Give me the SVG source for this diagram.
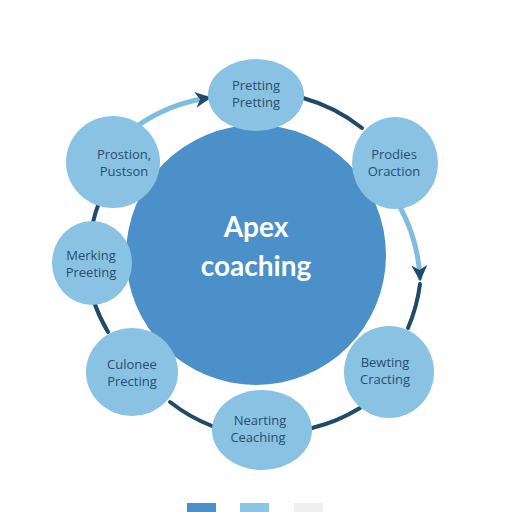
<svg xmlns="http://www.w3.org/2000/svg" width="512" height="512" viewBox="0 0 512 512">
<defs>
<style>
.node{fill:#89c2e3}
.lbl{font-family:"Open Sans","Liberation Sans",sans-serif;font-size:13px;fill:#2a4d6e;text-anchor:middle}
.dark{fill:none;stroke:#1f4a68;stroke-width:4;stroke-linecap:round}
.light{fill:none;stroke:#7fbde0;stroke-width:5;stroke-linecap:round}
</style>
<marker id="ah" viewBox="0 0 10 10" refX="8" refY="5" markerWidth="3.2" markerHeight="3.2" orient="auto" markerUnits="strokeWidth">
<path d="M0,0 L10,5 L0,10 L3,5 Z" fill="#1f4a68"/>
</marker>
</defs>
<rect width="512" height="512" fill="#ffffff"/>
<g id="connectors">
<path class="light" d="M140,124 A166,166 0 0 1 208,98" marker-end="url(#ah)"/>
<path class="dark" d="M303,98 A166,166 0 0 1 362,128"/>
<path class="light" d="M400,207 A166,166 0 0 1 420,278" marker-end="url(#ah)"/>
<path class="dark" d="M420,284 A166,166 0 0 1 408,328"/>
<path class="dark" d="M360,408 A166,166 0 0 1 312,428"/>
<path class="dark" d="M212,426 A166,166 0 0 1 170,402"/>
<path class="dark" d="M108,332 A166,166 0 0 1 94,302"/>
<path class="dark" d="M92,226 A166,166 0 0 1 100,200"/>
</g>
<g id="center">
<circle cx="256" cy="255" r="130" fill="#4b90c8"/>
<text x="256" y="237" font-family="Lato,'Open Sans','Liberation Sans',sans-serif" font-size="28" font-weight="bold" fill="#ffffff" text-anchor="middle">Apex</text>
<text x="256" y="276" font-family="Lato,'Open Sans','Liberation Sans',sans-serif" font-size="28" font-weight="bold" fill="#ffffff" text-anchor="middle">coaching</text>
</g>
<g id="n1"><ellipse class="node" cx="256" cy="95" rx="48" ry="36"/><text class="lbl" x="256" y="90">Pretting</text><text class="lbl" x="256" y="107">Pretting</text></g>
<g id="n2"><ellipse class="node" cx="395" cy="163" rx="43" ry="46"/><text class="lbl" x="394" y="159">Prodies</text><text class="lbl" x="394" y="176">Oraction</text></g>
<g id="n3"><ellipse class="node" cx="389" cy="372" rx="45" ry="46"/><text class="lbl" x="385" y="367">Bewting</text><text class="lbl" x="385" y="384">Cracting</text></g>
<g id="n4"><ellipse class="node" cx="262" cy="430" rx="50" ry="40"/><text class="lbl" x="260" y="425">Nearting</text><text class="lbl" x="258" y="442">Ceaching</text></g>
<g id="n5"><ellipse class="node" cx="132" cy="372" rx="46" ry="44"/><text class="lbl" x="132" y="369">Culonee</text><text class="lbl" x="132" y="386">Precting</text></g>
<g id="n6"><ellipse class="node" cx="92" cy="263" rx="40" ry="42"/><text class="lbl" x="91" y="260">Merking</text><text class="lbl" x="91" y="277">Preeting</text></g>
<g id="n7"><ellipse class="node" cx="113" cy="162" rx="47" ry="46"/><text class="lbl" x="124" y="159">Prostion,</text><text class="lbl" x="124" y="176">Pustson</text></g>
<g id="legend">
<rect x="187" y="503" width="29" height="12" fill="#4b90c8"/>
<rect x="240" y="503" width="29" height="12" fill="#8cc6e6"/>
<rect x="294" y="503" width="29" height="12" fill="#eeeeee"/>
</g>
</svg>
